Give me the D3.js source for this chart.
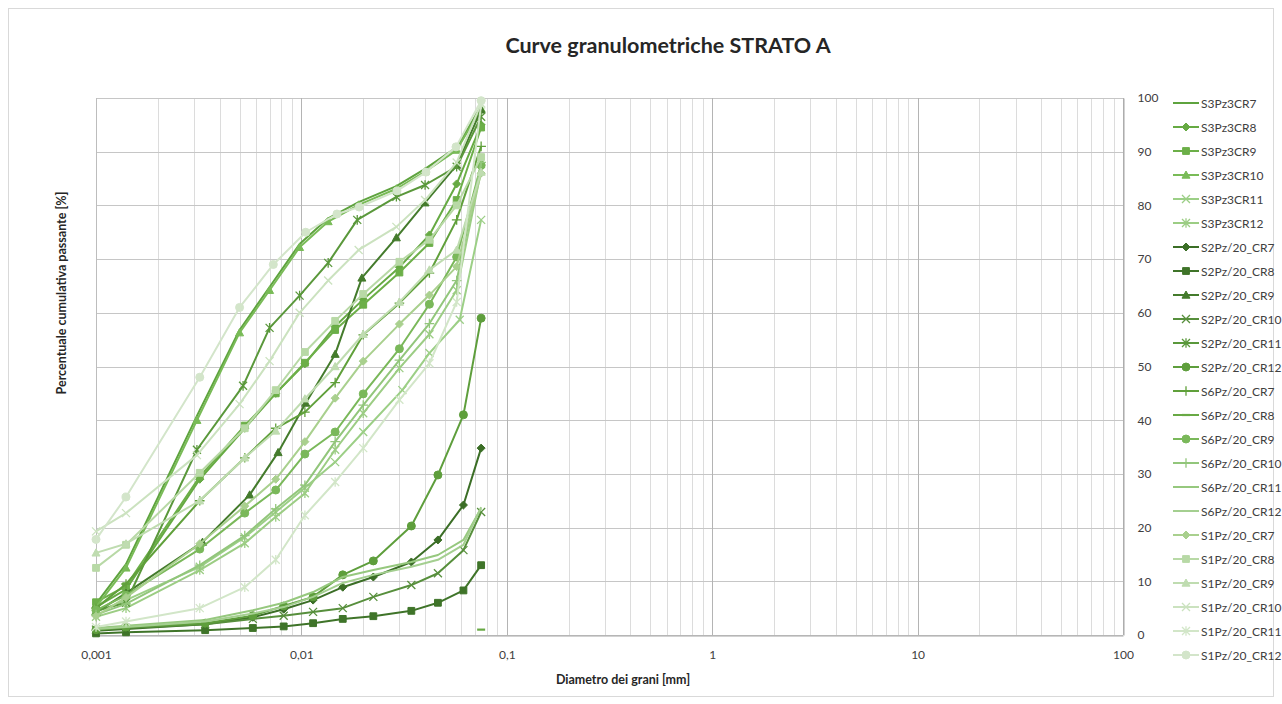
<!DOCTYPE html>
<html>
<head>
<meta charset="utf-8">
<script src="https://cdn.jsdelivr.net/npm/d3@7"></script>
<style>
  body { margin: 0; background: #fff; }
  text { font-family: Lato, "Open Sans", sans-serif; fill: #404040; }
</style>
</head>
<body>
<svg id="chart" width="1282" height="704"></svg>
<script>
// ---- series names (legend order) ----
const seriesNames = [
  "S3Pz3CR7", "S3Pz3CR8", "S3Pz3CR9", "S3Pz3CR10", "S3Pz3CR11", "S3Pz3CR12",
  "S2Pz/20_CR7", "S2Pz/20_CR8", "S2Pz/20_CR9", "S2Pz/20_CR10", "S2Pz/20_CR11", "S2Pz/20_CR12",
  "S6Pz/20_CR7", "S6Pz/20_CR8", "S6Pz/20_CR9", "S6Pz/20_CR10", "S6Pz/20_CR11", "S6Pz/20_CR12",
  "S1Pz/20_CR7", "S1Pz/20_CR8", "S1Pz/20_CR9", "S1Pz/20_CR10", "S1Pz/20_CR11", "S1Pz/20_CR12"
];

// ---- grain diameters [mm] (sieve 0.075 + sedimentation readings) ----
const diamA = [0.075, 0.057, 0.040, 0.029, 0.019, 0.0135, 0.0098, 0.0070, 0.0050, 0.0031, 0.0014, 0.001];
const diamB = [0.075, 0.0615, 0.0462, 0.0343, 0.0224, 0.0159, 0.0114, 0.0082, 0.0058, 0.0034, 0.0014, 0.001];
const diamC = [0.075, 0.057, 0.042, 0.030, 0.020, 0.0146, 0.0104, 0.0075, 0.0053, 0.0032, 0.0014, 0.001];
const diamS2CR9 = [0.075, 0.057, 0.040, 0.029, 0.0197, 0.0146, 0.0105, 0.0077, 0.0056, 0.0033, 0.0014, 0.001];
const diamS2CR11 = [0.075, 0.057, 0.040, 0.029, 0.0187, 0.0135, 0.0098, 0.0070, 0.0052, 0.0031, 0.0014, 0.001];
const diamS3CR11 = [0.075, 0.059, 0.042, 0.031, 0.020, 0.0146, 0.0104, 0.0075, 0.0053, 0.0032, 0.0014, 0.001];
const diamS1CR12 = [0.075, 0.0566, 0.0404, 0.0292, 0.0191, 0.0149, 0.0105, 0.0073, 0.0050, 0.0032, 0.0014, 0.001];
const diamSingle = [0.075];

// ---- cumulative passing [%] ----
const pS3CR7  = [98.5, 90.8, 86.8, 83.6, 80.6, 77.6, 72.8, 64.8, 56.8, 40.8, 13.2, 5.8];
const pS3CR8  = [95.0, 84.0, 74.5, 68.5, 62.5, 57.5, 50.5, 45.0, 38.5, 29.0, 8.5, 5.2];
const pS3CR9  = [94.5, 81.0, 73.0, 67.5, 61.5, 56.8, 50.7, 45.0, 39.0, 29.5, 9.1, 6.1];
const pS3CR10 = [98.0, 90.3, 86.3, 83.1, 80.1, 77.0, 72.2, 64.2, 56.3, 40.0, 12.5, 5.2];
const pS3CR11 = [77.3, 58.7, 52.5, 45.6, 37.8, 32.2, 27.4, 22.9, 18.2, 12.7, 6.5, 4.3];
const pS3CR12 = [86.5, 64.2, 56.0, 49.7, 41.3, 34.5, 26.4, 22.0, 17.1, 12.1, 5.0, 3.4];
const pS2CR7  = [34.8, 24.2, 17.7, 13.6, 10.8, 8.9, 6.5, 4.8, 3.3, 2.0, 1.1, 0.8];
const pS2CR8  = [13.0, 8.3, 6.0, 4.5, 3.5, 3.0, 2.2, 1.6, 1.3, 0.9, 0.5, 0.3];
const pS2CR9  = [97.8, 87.5, 80.5, 74.0, 66.5, 52.3, 43.2, 34.0, 26.1, 17.3, 7.8, 4.2];
const pS2CR10 = [22.9, 15.8, 11.5, 9.3, 7.1, 5.0, 4.3, 3.6, 3.0, 2.0, 1.3, 1.0];
const pS2CR11 = [96.5, 87.2, 83.8, 81.6, 77.3, 69.3, 63.2, 57.2, 46.4, 34.5, 6.0, 4.5];
const pS2CR12 = [59.0, 41.0, 29.8, 20.3, 13.8, 11.2, 7.1, 5.4, 3.6, 2.2, 1.5, 1.0];
const pS6CR7  = [91.0, 77.3, 67.4, 61.8, 55.9, 47.0, 41.5, 38.5, 33.0, 25.0, 9.5, 5.0];
const pS6CR8  = [1.0];
const pS6CR9  = [87.5, 70.4, 61.6, 53.3, 44.9, 37.8, 33.7, 27.0, 22.7, 16.0, 7.4, 4.6];
const pS6CR10 = [88.0, 66.0, 58.0, 51.2, 42.8, 36.0, 27.9, 23.5, 18.5, 13.0, 5.8, 3.8];
const pS6CR11 = [23.6, 17.7, 14.9, 13.6, 12.1, 10.8, 8.0, 6.0, 4.6, 2.8, 1.7, 1.3];
const pS6CR12 = [23.8, 16.8, 14.0, 12.7, 11.2, 9.7, 7.1, 5.2, 4.0, 2.5, 1.5, 1.1];
const pS1CR7  = [86.0, 68.6, 63.3, 57.9, 51.0, 44.1, 36.0, 29.0, 24.0, 17.0, 7.0, 3.5];
const pS1CR8  = [89.0, 80.0, 73.6, 69.5, 63.5, 58.5, 52.7, 45.6, 38.5, 30.2, 16.8, 12.5];
const pS1CR9  = [86.2, 71.7, 68.0, 62.0, 56.0, 50.0, 44.0, 38.0, 33.0, 25.0, 17.0, 15.3];
const pS1CR10 = [99.0, 88.0, 81.0, 76.0, 71.7, 66.0, 60.0, 51.0, 43.0, 33.5, 22.7, 19.3];
const pS1CR11 = [98.8, 62.0, 50.6, 43.8, 34.8, 28.5, 22.3, 14.0, 8.9, 5.0, 2.5, 1.5];
const pS1CR12 = [99.5, 90.9, 86.2, 82.7, 79.7, 78.4, 75.0, 69.0, 61.0, 48.0, 25.7, 17.8];

const seriesDiam = [
  diamA, diamC, diamC, diamA, diamS3CR11, diamC,
  diamB, diamB, diamS2CR9, diamB, diamS2CR11, diamB,
  diamC, diamSingle, diamC, diamC, diamB, diamB,
  diamC, diamC, diamC, diamA, diamC, diamS1CR12
];
const seriesPass = [
  pS3CR7, pS3CR8, pS3CR9, pS3CR10, pS3CR11, pS3CR12,
  pS2CR7, pS2CR8, pS2CR9, pS2CR10, pS2CR11, pS2CR12,
  pS6CR7, pS6CR8, pS6CR9, pS6CR10, pS6CR11, pS6CR12,
  pS1CR7, pS1CR8, pS1CR9, pS1CR10, pS1CR11, pS1CR12
];

// ---- marker shapes and colours per series ----
const seriesMarkers = [
  "none", "diamond", "square", "triangle", "x", "asterisk",
  "diamond", "square", "triangle", "x", "asterisk", "circle",
  "plus", "dash", "circle", "plus", "none", "none",
  "diamond", "square", "triangle", "x", "asterisk", "circle"
];
const seriesColors = [
  "#5ea33e", "#66aa43", "#6caf48", "#79bb57", "#9ccf86", "#9ccd84",
  "#3b6e26", "#3f7429", "#447b2c", "#578f3c", "#5a983b", "#5e9e3c",
  "#60a03b", "#68a944", "#7ab85a", "#92c67b", "#96c87e", "#a4cf90",
  "#a9d08e", "#b8d9a6", "#bfdcb0", "#cbe2bf", "#d2e6c8", "#d3e5ca"
];

// ---- axis ticks ----
const xTickValues = [0.001, 0.01, 0.1, 1, 10, 100];
const xTickLabels = ["0,001", "0,01", "0,1", "1", "10", "100"];
const yTickValues = [0, 10, 20, 30, 40, 50, 60, 70, 80, 90, 100];

// ---- layout ----
const plot = { left: 96, right: 1123, top: 98, bottom: 635 };
const svg = d3.select("#chart");

const x = d3.scaleLog().domain([0.001, 100]).range([plot.left, plot.right]);
const y = d3.scaleLinear().domain([0, 100]).range([plot.bottom, plot.top]);

// outer chart frame
svg.append("rect")
  .attr("x", 8.5).attr("y", 8.5).attr("width", 1265).attr("height", 688)
  .attr("fill", "#fff").attr("stroke", "#d9d9d9").attr("stroke-width", 1);

// title
svg.append("text")
  .attr("x", 668).attr("y", 53).attr("text-anchor", "middle")
  .style("font-size", "21.5px").style("font-weight", "bold").style("fill", "#262626")
  .text("Curve granulometriche STRATO A");

// minor vertical grid (2..9 within each decade)
const minorX = [];
for (let e = -3; e < 2; e++) {
  for (let m = 2; m <= 9; m++) minorX.push(m * Math.pow(10, e));
}
const grid = svg.append("g");
grid.selectAll("line.minor").data(minorX).join("line")
  .attr("class", "minor")
  .attr("x1", d => Math.round(x(d)) + 0.5).attr("x2", d => Math.round(x(d)) + 0.5)
  .attr("y1", plot.top).attr("y2", plot.bottom)
  .attr("stroke", "#dcdcdc").attr("stroke-width", 1);

// horizontal major grid
grid.selectAll("line.hmaj").data(yTickValues).join("line")
  .attr("class", "hmaj")
  .attr("x1", plot.left).attr("x2", plot.right)
  .attr("y1", d => Math.round(y(d)) + 0.5).attr("y2", d => Math.round(y(d)) + 0.5)
  .attr("stroke", "#c6c6c6").attr("stroke-width", 1);

// vertical decade grid
grid.selectAll("line.vmaj").data(xTickValues).join("line")
  .attr("class", "vmaj")
  .attr("x1", d => Math.round(x(d)) + 0.5).attr("x2", d => Math.round(x(d)) + 0.5)
  .attr("y1", plot.top).attr("y2", plot.bottom)
  .attr("stroke", "#b4b4b4").attr("stroke-width", 1);

// bottom axis (log) with tick labels
const xAxis = d3.axisBottom(x).tickValues(xTickValues)
  .tickFormat((d, i) => xTickLabels[i]).tickSize(0).tickPadding(15);
const gx = svg.append("g").attr("transform", `translate(0,${plot.bottom + 0.5})`).call(xAxis);
gx.select(".domain").attr("stroke", "#a6a6a6");
gx.selectAll("text").style("font-size", "12px").style("font-family", "Lato, sans-serif").style("fill", "#404040");

// right axis (percent)
const yAxis = d3.axisRight(y).tickValues(yTickValues).tickSize(0).tickPadding(14);
const gy = svg.append("g").attr("transform", `translate(${plot.right + 0.5},0)`).call(yAxis);
gy.select(".domain").attr("stroke", "#a6a6a6");
gy.selectAll("text").style("font-size", "12px").style("font-family", "Lato, sans-serif").style("fill", "#404040");

// left border of the plot area
svg.append("line")
  .attr("x1", plot.left + 0.5).attr("x2", plot.left + 0.5)
  .attr("y1", plot.top).attr("y2", plot.bottom)
  .attr("stroke", "#bdbdbd");

// axis titles
svg.append("text")
  .attr("x", 623).attr("y", 684).attr("text-anchor", "middle")
  .style("font-size", "12.5px").style("font-weight", "bold").style("fill", "#262626")
  .text("Diametro dei grani [mm]");
svg.append("text")
  .attr("transform", "translate(66,293) rotate(-90)").attr("text-anchor", "middle")
  .style("font-size", "12.5px").style("font-weight", "bold").style("fill", "#262626")
  .text("Percentuale cumulativa passante [%]");

// marker path generator
function markerPath(type, s) {
  switch (type) {
    case "diamond": return `M0,${-s}L${s},0L0,${s}L${-s},0Z`;
    case "square": return `M${-s * 0.85},${-s * 0.85}h${s * 1.7}v${s * 1.7}h${-s * 1.7}Z`;
    case "triangle": return `M0,${-s}L${s},${s * 0.8}L${-s},${s * 0.8}Z`;
    case "x": return `M${-s},${-s}L${s},${s}M${-s},${s}L${s},${-s}`;
    case "asterisk": return `M${-s},${-s}L${s},${s}M${-s},${s}L${s},${-s}M0,${-s * 1.2}L0,${s * 1.2}`;
    case "plus": return `M${-s * 1.2},0L${s * 1.2},0M0,${-s * 1.2}L0,${s * 1.2}`;
    case "dash": return `M${-s},0L${s},0`;
    default: return null;
  }
}
const filledMarkers = new Set(["diamond", "square", "triangle"]);

function drawMarker(g, type, color, cx, cy) {
  if (type === "none") return;
  if (type === "circle") {
    g.append("circle").attr("cx", cx).attr("cy", cy).attr("r", 4)
      .attr("fill", color).attr("stroke", color);
    return;
  }
  const p = g.append("path")
    .attr("d", markerPath(type, 4))
    .attr("transform", `translate(${cx},${cy})`)
    .attr("stroke", color);
  if (filledMarkers.has(type)) p.attr("fill", color).attr("stroke-width", 1);
  else p.attr("fill", "none").attr("stroke-width", type === "dash" ? 2.2 : 1.3);
}

// series table built from the arrays above
const series = seriesNames.map((name, i) => ({
  name,
  color: seriesColors[i],
  marker: seriesMarkers[i],
  points: seriesDiam[i].map((d, j) => ({ d, p: seriesPass[i][j] }))
}));

const line = d3.line().x(pt => x(pt.d)).y(pt => y(pt.p));
const plotG = svg.append("g");
series.forEach(s => {
  const g = plotG.append("g");
  if (s.points.length > 1) {
    g.append("path").datum(s.points)
      .attr("d", line).attr("fill", "none")
      .attr("stroke", s.color).attr("stroke-width", 2).attr("stroke-linejoin", "round");
  }
  s.points.forEach(pt => drawMarker(g, s.marker, s.color, x(pt.d), y(pt.p)));
});

// legend
const legend = svg.append("g");
series.forEach((s, i) => {
  const cy = 103 + i * 24;
  const g = legend.append("g");
  g.append("line").attr("x1", 1173).attr("x2", 1199).attr("y1", cy).attr("y2", cy)
    .attr("stroke", s.color).attr("stroke-width", 2);
  drawMarker(g, s.marker, s.color, 1186, cy);
  g.append("text").attr("x", 1201).attr("y", cy + 4.5)
    .style("font-size", "12px").style("fill", "#404040").text(s.name);
});
</script>
</body>
</html>
